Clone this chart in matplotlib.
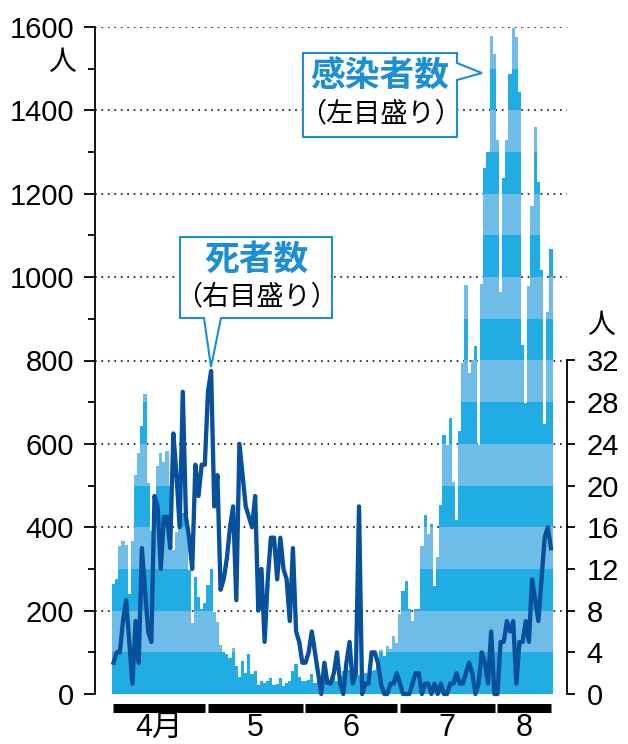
import numpy as np
import matplotlib
matplotlib.use('Agg')
from matplotlib import pyplot as plt
from matplotlib import font_manager
from matplotlib.patches import Polygon
from matplotlib.transforms import Affine2D, blended_transform_factory


# 新規感染者数（左目盛り、人）
cases_apr = [265, 275, 355, 366, 357, 241, 366, 525, 577, 643,
             720, 505, 390, 385, 547, 579, 557, 584, 500, 345,
             389, 433, 433, 433, 297, 171, 281, 232, 205, 219]
cases_may = [261, 299, 197, 173, 118, 101, 96, 86, 110, 67,
             41, 78, 51, 96, 48, 54, 22, 30, 26, 32,
             38, 22, 24, 38, 18, 27, 32, 56, 72, 41, 30]
cases_jun = [30, 34, 48, 27, 43, 42, 46, 18, 34, 46,
             30, 42, 54, 74, 58, 38, 42, 46, 54, 51,
             30, 54, 58, 86, 106, 90, 114, 107, 138, 123]
cases_jul = [193, 248, 272, 205, 175, 205, 205, 355, 429, 385,
             407, 259, 329, 453, 621, 597, 661, 509, 417, 631,
             795, 981, 769, 801, 835, 597, 983, 1261, 1301, 1579, 1535]
cases_aug = [1330, 965, 1238, 1330, 1487, 1597, 1576, 1443, 837, 697,
             978, 1171, 1360, 1227, 1018, 647, 917, 1068]

# 死者数（右目盛り、人）
deaths_apr = [3, 4, 4, 7, 9, 5, 1, 7, 3, 14,
              10, 6, 5, 19, 18, 12, 17, 17, 14, 25,
              21, 16, 29, 17, 15, 12, 22, 19, 22, 22]
deaths_may = [29, 31, 18, 21, 10, 11, 13, 16, 18, 9,
              24, 21, 18, 17, 16, 19, 8, 12, 5, 11,
              15, 15, 11, 15, 12, 11, 7, 14, 6, 5, 3]
deaths_jun = [3, 4, 6, 4, 2, 0, 3, 1, 1, 2,
              4, 1, 0, 3, 5, 1, 2, 18, 0, 1,
              1, 4, 4, 3, 1, 0, 0, 1, 1, 2]
deaths_jul = [1, 0, 0, 0, 1, 2, 2, 0, 1, 1,
              0, 1, 0, 1, 0, 0, 1, 1, 2, 1,
              1, 2, 3, 2, 0, 1, 4, 3, 1, 6, 0]
deaths_aug = [0, 5, 5, 7, 6, 7, 1, 5, 5, 7,
              5, 11, 9, 7, 11, 15, 16, 14]

month_labels = ['4月', '5', '6', '7', '8']
month_days = [30, 31, 30, 31, 18]
left_ticks = np.arange(0, 1601, 200)
right_ticks = np.arange(0, 33, 4)

cases = np.array(cases_apr + cases_may + cases_jun + cases_jul + cases_aug)
deaths = np.array(deaths_apr + deaths_may + deaths_jun + deaths_jul + deaths_aug)
x = np.arange(len(cases))

# 数字用フォント（細め）
try:
    font_manager.findfont('Liberation Sans Narrow', fallback_to_default=False)
    num_font = 'Liberation Sans Narrow'
    num_size = 23
except ValueError:
    num_font = 'Liberation Sans'
    num_size = 21
plt.rcParams['font.family'] = [num_font, 'Noto Sans CJK JP']
jp = 'Noto Sans CJK JP'

dark = '#22ace4'
light = '#6ebde9'
line_c = '#07509c'
blue = '#1b8ed4'

W, H = 628, 744
fig = plt.figure(figsize=(W / 100, H / 100), dpi=100)
ax = fig.add_axes([95 / W, 1 - 694 / H, 472 / W, 667 / H])

# 100人ごとの帯で色分けした棒
for k in range(16):
    h = np.clip(cases - k * 100, 0, 100)
    ax.bar(x, h, bottom=k * 100, width=1.0, color=dark if k % 2 == 0 else light,
           linewidth=0, antialiased=False, zorder=2)

x0, x1 = -5.9, 144.1
ax.set_xlim(x0, x1)
ax.set_ylim(0, 1600)
for t in left_ticks[1:]:
    ax.axhline(t, color='#3a3a3a', lw=1.5, linestyle=(0, (0.8, 2.3)), zorder=1)

for s in ['top', 'right', 'bottom']:
    ax.spines[s].set_visible(False)
ax.spines['left'].set_linewidth(1.3)
ax.set_xticks([])
ax.set_yticks(left_ticks)
ax.set_yticks(np.arange(100, 1600, 200), minor=True)
ax.tick_params(axis='y', which='major', direction='out', length=8, width=1.3,
               pad=7, labelsize=num_size)
ax.tick_params(axis='y', which='minor', direction='out', length=5, width=1.3)

# 死者数（右目盛り）
ax2 = ax.twinx()
ax2.set_ylim(0, 64)
ax2.plot(x, deaths, color=line_c, lw=3.1, clip_on=False, zorder=3)
for s in ['top', 'left', 'bottom']:
    ax2.spines[s].set_visible(False)
ax2.spines['right'].set_bounds(0, 32)
ax2.spines['right'].set_linewidth(1.3)
ax2.set_yticks(right_ticks)
ax2.tick_params(axis='y', direction='out', length=6, width=1.3, pad=8,
                labelsize=num_size)

# 月の帯
trans = blended_transform_factory(ax.transData, ax.transAxes)
starts = np.cumsum([0] + month_days[:-1])
for s, n, lab in zip(starts, month_days, month_labels):
    ax.plot([s - 0.5 + 0.4, s + n - 0.5 - 0.4], [-0.021, -0.021], transform=trans,
            color='black', lw=6.5, solid_capstyle='butt', clip_on=False)
    ax.text(s + n / 2 - 0.5, -0.051, lab, transform=trans, ha='center', va='center',
            fontsize=num_size + 1)

# 吹き出し（ピクセル座標）
px = Affine2D().scale(1 / W, -1 / H).translate(0, 1) + fig.transFigure


def pt(xp, yp):
    return fig.transFigure.inverted().transform(px.transform((xp, yp)))


box1 = [(303, 53), (457, 53), (457, 63), (482, 73), (457, 80), (457, 137), (303, 137)]
box2 = [(180, 237), (332, 237), (332, 318), (221, 318), (211, 367), (204, 318), (180, 318)]
for b in [box1, box2]:
    fig.add_artist(Polygon(b, closed=True, facecolor='white', edgecolor=blue,
                           lw=1.5, transform=px, zorder=10))

for (xp, yp), s, kw in [
        ((380, 76), '感染者数', dict(fontsize=25, fontweight='bold', color=blue)),
        ((380, 114), '（左目盛り）', dict(fontsize=19.5, color='black')),
        ((256, 259), '死者数', dict(fontsize=25, fontweight='bold', color=blue)),
        ((256, 297), '（右目盛り）', dict(fontsize=19.5, color='black')),
        ((62, 62), '人', dict(fontsize=20, color='black')),
        ((601, 325), '人', dict(fontsize=20, color='black'))]:
    fx, fy = pt(xp, yp)
    fig.text(fx, fy, s, ha='center', va='center', family=jp, zorder=11, **kw)

fig.savefig('out.png', dpi=100)
